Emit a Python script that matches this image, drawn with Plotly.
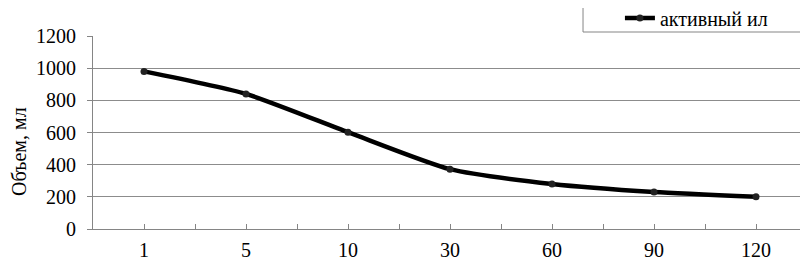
import plotly.graph_objects as go

categories = ["1", "5", "10", "30", "60", "90", "120"]
values = [980, 840, 602, 372, 280, 230, 200]
series_name = "активный ил"
y_title = "Объем, мл"
y_ticks = [0, 200, 400, 600, 800, 1000, 1200]

FONT = "Liberation Serif"
SIZE = 20
GRAY = "#858585"

positions = list(range(len(categories)))
half_ticks = [i * 0.5 - 0.5 for i in range(2 * len(categories) + 1)]
half_text = [""] * len(half_ticks)
for i, c in enumerate(categories):
    half_text[2 * i + 1] = c

fig = go.Figure()
fig.add_trace(go.Scatter(
    x=positions, y=values, name=series_name, mode="lines+markers",
    line=dict(color="#000000", width=4.5, shape="spline", smoothing=0.6),
    marker=dict(color="#222222", size=7, symbol="circle"),
    showlegend=True,
))

# legend frame (its top edge lies above the visible page, as in the reference)
fig.add_shape(type="rect", xref="paper", yref="paper",
              x0=0.6863, x1=0.9944, y0=1.0207, y1=1.1554,
              line=dict(color=GRAY, width=1), fillcolor="white", layer="below")

fig.add_annotation(text=y_title, textangle=-90, xref="paper", yref="paper",
                   x=-0.1036, y=0.399, xanchor="center", yanchor="middle",
                   showarrow=False, font=dict(family=FONT, size=SIZE, color="#000"))

fig.update_layout(
    width=800, height=253,
    margin=dict(l=85, r=1, t=28, b=32, autoexpand=False),
    paper_bgcolor="white", plot_bgcolor="white",
    font=dict(family=FONT, size=SIZE, color="#000000"),
    xaxis=dict(
        range=[-0.5, 6.5], tickvals=half_ticks, ticktext=half_text,
        ticks="inside", ticklen=5, tickcolor=GRAY,
        showline=True, linecolor=GRAY, linewidth=1, showgrid=False, zeroline=False,
        tickfont=dict(family=FONT, size=SIZE, color="#000"), ticklabelstandoff=3,
    ),
    yaxis=dict(
        range=[0, 1200], tickvals=y_ticks, ticks="outside", ticklen=5,
        tickcolor=GRAY, showline=True, linecolor=GRAY, linewidth=1,
        showgrid=True, gridcolor="#8c8c8c", gridwidth=1, zeroline=False,
        tickfont=dict(family=FONT, size=SIZE, color="#000"), ticklabelstandoff=7,
    ),
    legend=dict(
        x=0.738, xanchor="left", y=1.0933, yanchor="middle",
        borderwidth=0, bgcolor="rgba(0,0,0,0)",
        font=dict(family=FONT, size=SIZE, color="#000"),
    ),
)

fig.write_html("out.html")
